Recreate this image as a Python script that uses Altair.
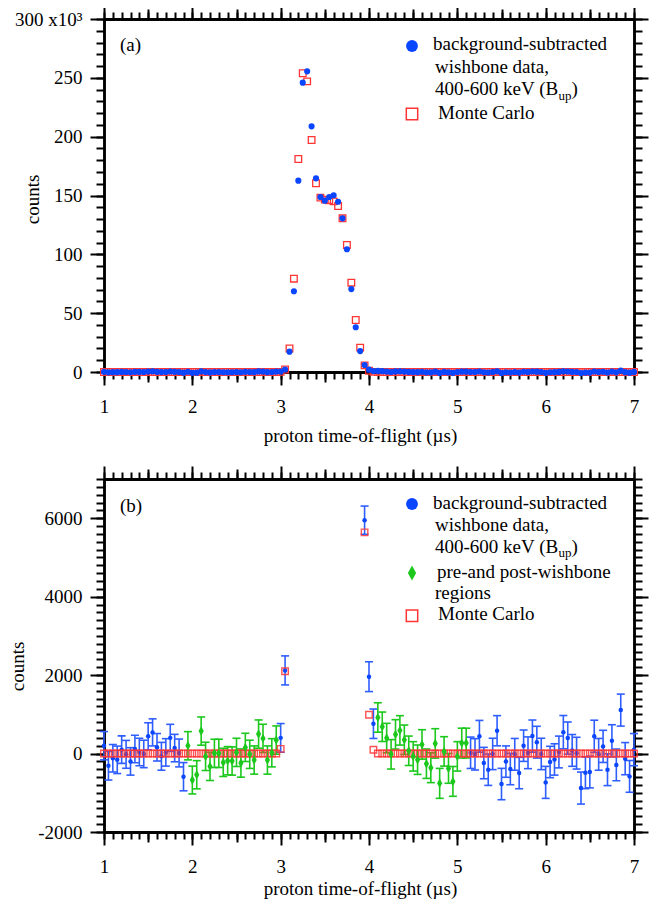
import altair as alt
import numpy as np
import pandas as pd

FONT = "Liberation Serif"
FS = 19
BLUE = "#0b46ff"
BLUE_BAR = "#2f5eff"
GREEN = "#1cc81c"
RED = "#ff3535"
W, H = 530, 353
DIAMOND = "M0,-1L0.55,0L0,1L-0.55,0Z"


def bins(a, b):
    return [round(float(v), 2) for v in np.arange(a, b + 1e-6, 0.05)]


# ---------------- data: time-of-flight bins (µs) ----------------
t_early = bins(1.00, 1.90)
t_pre = bins(1.95, 2.95)
t_rise = [3.00, 3.05]
t_peak = bins(3.10, 3.90)
t_fall = [3.95, 4.00, 4.05]
t_post = bins(4.10, 5.10)
t_late = bins(5.15, 7.00)

# background-subtracted wishbone data (counts) and errors
wish_early = [200, -310, -120, -160, 100, -20, -200, 115, 40, -10,
              440, 540, 160, -70, 30, 400, 140, 15, -590]
err_early = [360, 365, 350, 350, 350, 355, 350, 350, 350, 350,
             345, 345, 350, 355, 350, 345, 350, 355, 360]
wish_rise = [400, 2120]
err_rise = [365, 370]
wish_peak = [17300, 68600, 162600, 245900, 255500, 208800, 164600, 148700,
             145600, 148700, 150200, 144700, 130600, 104300, 70500, 38000, 17800]
wish_fall = [5950, 1960, 760]
err_fall = [360, 380, 375]
wish_late = [20, -20, 440, -242, -412, -10, 582, -777, -205, -395,
             -20, -497, 200, 20, 445, 290, -10, -735, -215, -150,
             40, 545, 395, 80, 10, -880, -490, -470, 440, -20,
             183, -412, 325, -290, 1108, -130, -582, 100]
err_late = [400, 400, 405, 400, 400, 400, 385, 400, 400, 400,
            405, 400, 400, 405, 410, 405, 400, 408, 400, 400,
            405, 425, 410, 405, 405, 408, 405, 405, 410, 405,
            410, 405, 410, 405, 408, 410, 405, 410]

# pre- and post-wishbone regions (counts) and errors
pre_vals = [199, -675, -540, 573, -72, -327, 5, 5, -225, -183, -190,
            30, -242, 157, -20, -165, 497, 387, -165, 20, 344]
pre_err = [360, 355, 360, 360, 360, 360, 360, 360, 360, 360, 360,
           360, 360, 360, 360, 360, 360, 360, 360, 360, 360]
post_vals = [920, 683, 395, -20, 489, 591, 352, 71, -72, -157, 233,
             -259, -361, 259, -760, 55, -378, -710, -72, 267, 267]
post_err = [375, 375, 375, 375, 375, 375, 375, 375, 375, 375, 375,
            375, 380, 375, 382, 375, 380, 380, 375, 380, 380]

# Monte Carlo (counts)
mc_rise = [120, 2100]
mc_peak = [20000, 79300, 181000, 253900, 247000, 197200, 160400, 148200,
           146500, 146000, 145000, 141000, 130600, 108000, 75900, 44200, 20700]
mc_fall = [5640, 990, 97]

# ---------------- tables ----------------
t_all = t_early + t_pre + t_rise + t_peak + t_fall + t_post + t_late
wish_all = wish_early + pre_vals + wish_rise + wish_peak + wish_fall + post_vals + wish_late
mc_all = ([0] * len(t_early + t_pre)) + mc_rise + mc_peak + mc_fall + ([0] * len(t_post + t_late))
df_a = pd.DataFrame({"t": t_all, "wish": wish_all, "mc": mc_all})

blue_t = t_early + t_rise + t_fall + t_late
blue_v = wish_early + wish_rise + wish_fall + wish_late
blue_e = err_early + err_rise + err_fall + err_late
df_bb = pd.DataFrame({"t": blue_t, "v": blue_v, "e": blue_e})
df_bb["lo"] = df_bb["v"] - df_bb["e"]
df_bb["hi"] = df_bb["v"] + df_bb["e"]

df_bg = pd.DataFrame({"t": t_pre + t_post, "v": pre_vals + post_vals, "e": pre_err + post_err})
df_bg["lo"] = df_bg["v"] - df_bg["e"]
df_bg["hi"] = df_bg["v"] + df_bg["e"]

one = pd.DataFrame({"k": [0]})

XDOM = [1, 7]
x_major = [1, 2, 3, 4, 5, 6, 7]
x_half = [1.5, 2.5, 3.5, 4.5, 5.5, 6.5]
x_minor = [round(float(v), 1) for v in np.arange(1.0, 7.0001, 0.1)]


def X(axis=None, field="t"):
    return alt.X(field, type="quantitative",
                 scale=alt.Scale(domain=XDOM, nice=False, zero=False), axis=axis)


def Y(field, dom, axis=None):
    return alt.Y(field, type="quantitative",
                 scale=alt.Scale(domain=dom, nice=False, zero=False), axis=axis)


def frame(data, yfield, ydom, ymaj, ymin, ylabexpr, ytx, yty, xty, xlabpad):
    xt = "proton time-of-flight (µs)"
    base = alt.Chart(data).mark_point(opacity=0)
    ax_bottom_major = alt.Axis(orient="bottom", values=x_major, tickSize=13,
                               labelPadding=xlabpad, labelBaseline="middle",
                               labelExpr="'' + datum.value",
                               title=xt, titleX=256, titleY=xty,
                               titleBaseline="alphabetic", titleAlign="center")
    ax_left_major = alt.Axis(orient="left", values=ymaj, tickSize=14, labelPadding=8,
                             labelAlign="right", labelBaseline="middle",
                             labelExpr=ylabexpr,
                             title="counts", titleAngle=270, titleX=ytx, titleY=yty,
                             titleBaseline="alphabetic", titleAlign="center")
    l1 = base.encode(x=X(ax_bottom_major), y=Y(yfield, ydom, ax_left_major))
    l2 = base.encode(x=X(alt.Axis(orient="bottom", values=x_half, tickSize=10, labels=False, title=None)),
                     y=Y(yfield, ydom, alt.Axis(orient="left", values=ymin, tickSize=8, labels=False, title=None)))
    l3 = base.encode(x=X(alt.Axis(orient="bottom", values=x_minor, tickSize=7, labels=False, title=None)),
                     y=Y(yfield, ydom, alt.Axis(orient="right", values=ymaj, tickSize=14, labels=False, title=None)))
    l4 = base.encode(x=X(alt.Axis(orient="top", values=x_major, tickSize=13, labels=False, title=None)),
                     y=Y(yfield, ydom, alt.Axis(orient="right", values=ymin, tickSize=8, labels=False, title=None)))
    l5 = base.encode(x=X(alt.Axis(orient="top", values=x_half, tickSize=10, labels=False, title=None)),
                     y=Y(yfield, ydom, None))
    l6 = base.encode(x=X(alt.Axis(orient="top", values=x_minor, tickSize=7, labels=False, title=None)),
                     y=Y(yfield, ydom, None))
    return [l1, l2, l3, l4, l5, l6]


def ltext(s, x, y, size=FS):
    return alt.Chart(one).mark_text(text=s, align="left", baseline="alphabetic", font=FONT,
                                    fontSize=size, color="black").encode(
        x=alt.value(x), y=alt.value(y))


def lsym(x, y, **kw):
    return alt.Chart(one).mark_point(opacity=1, **kw).encode(x=alt.value(x), y=alt.value(y))


def bup_line(x, y):
    wid = 6.499 * FS
    return [ltext("400-600 keV (B", x, y), ltext("up", x + wid, y + 4.5, 13),
            ltext(")", x + wid + 13, y)]


# ---------------- panel (a) ----------------
YA = [0, 300000]
frame_a = frame(df_a, "wish", YA, list(range(0, 300001, 50000)), list(range(0, 300001, 10000)),
                "datum.value == 300000 ? '300 x10\u00b3' : '' + datum.value / 1000",
                -66, 180, 69, 21)
mc_a = alt.Chart(df_a).mark_point(shape="square", filled=False, size=44, strokeWidth=1.3,
                                  color=RED, opacity=1).encode(x=X(), y=Y("mc", YA))
wish_a = alt.Chart(df_a).mark_point(shape="circle", filled=True, size=38, color=BLUE,
                                    opacity=1).encode(x=X(), y=Y("wish", YA))
leg_a = [
    ltext("(a)", 16, 32),
    lsym(308, 27, shape="circle", filled=True, size=140, color=BLUE),
    ltext("background-subtracted", 329, 31),
    ltext("wishbone data,", 331, 54),
] + bup_line(331, 76) + [
    lsym(308, 95, shape="square", filled=False, size=130, strokeWidth=1.5, color=RED),
    ltext("Monte Carlo", 334, 99.5),
]
panel_a = alt.layer(*frame_a, mc_a, wish_a, *leg_a).resolve_axis(
    x="independent", y="independent").properties(width=W, height=H)

# ---------------- panel (b) ----------------
YB = [-2000, 7000]
frame_b = frame(df_bb, "v", YB, [-2000, 0, 2000, 4000, 6000], list(range(-2000, 7001, 200)),
                "'' + datum.value", -81, 187, 62, 21)
bar_b = alt.Chart(df_bb).mark_rule(color=BLUE_BAR, strokeWidth=1.6).encode(
    x=X(), y=Y("lo", YB), y2="hi")
cap_b = alt.Chart(df_bb).transform_fold(["lo", "hi"], as_=["end", "val"]).mark_tick(
    orient="horizontal", size=8, thickness=1.6, color=BLUE_BAR, opacity=1).encode(
    x=X(), y=Y("val", YB))
dot_b = alt.Chart(df_bb).mark_point(shape="circle", filled=True, size=20, color=BLUE,
                                    opacity=1).encode(x=X(), y=Y("v", YB))
bar_g = alt.Chart(df_bg).mark_rule(color=GREEN, strokeWidth=1.6).encode(
    x=X(), y=Y("lo", YB), y2="hi")
cap_g = alt.Chart(df_bg).transform_fold(["lo", "hi"], as_=["end", "val"]).mark_tick(
    orient="horizontal", size=8, thickness=1.6, color=GREEN, opacity=1).encode(
    x=X(), y=Y("val", YB))
mc_b = alt.Chart(df_a).transform_filter("datum.mc < 7000").mark_point(
    shape="square", filled=False, size=42, strokeWidth=1.4, color=RED, opacity=0.85).encode(
    x=X(), y=Y("mc", YB))
dia_g = alt.Chart(df_bg).mark_point(shape=DIAMOND, filled=True, size=90, color=GREEN,
                                    opacity=1).encode(x=X(), y=Y("v", YB))
leg_b = [
    ltext("(b)", 16, 32.5),
    lsym(308, 25, shape="circle", filled=True, size=140, color=BLUE),
    ltext("background-subtracted", 329, 29.6),
    ltext("wishbone data,", 331, 52),
] + bup_line(331, 73.6) + [
    lsym(308, 94, shape=DIAMOND, filled=True, size=225, color=GREEN),
    ltext("pre-and post-wishbone", 333, 98.6),
    ltext("regions", 331, 120),
    lsym(308, 136.7, shape="square", filled=False, size=130, strokeWidth=1.5, color=RED),
    ltext("Monte Carlo", 334, 141.3),
]
panel_b = alt.layer(*frame_b, bar_b, cap_b, dot_b, bar_g, cap_g, mc_b, dia_g, *leg_b).resolve_axis(
    x="independent", y="independent").properties(width=W, height=H)

chart = alt.vconcat(panel_a, panel_b, spacing=20).properties(
    padding={"left": 0, "top": -3, "right": 5, "bottom": 5}
).configure_view(strokeWidth=0).configure_axis(
    labelFont=FONT, labelFontSize=FS, labelColor="black", labelFlush=False, labelOverlap=False,
    titleFont=FONT, titleFontSize=FS, titleFontWeight="normal", titleColor="black",
    domainColor="black", domainWidth=2.5, tickColor="black", tickWidth=2, grid=False
)

chart.save("out.html", embed_options={"renderer": "svg", "actions": False})
